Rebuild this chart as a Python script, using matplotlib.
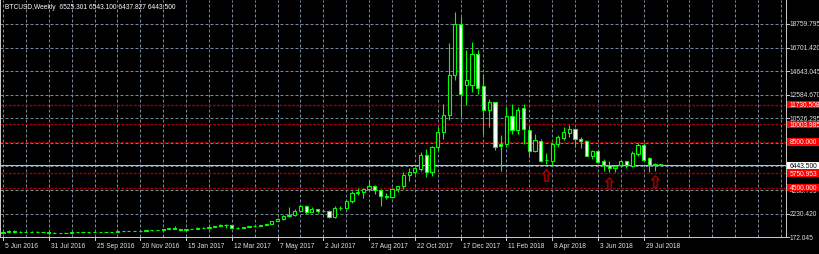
import matplotlib.pyplot as plt
from matplotlib.patches import Rectangle
from matplotlib.path import Path
import matplotlib.transforms as mtransforms

plt.rcParams['font.family'] = ['Liberation Sans', 'DejaVu Sans']

# BTCUSD weekly bars, week 0 = 5 Jun 2016
opens = [575, 605, 690, 660, 665, 650, 665, 655, 625, 590, 570, 580, 575, 605, 607, 608,
         600, 608, 618, 640, 655, 700, 705, 705, 740, 735, 765, 775, 785, 900, 995, 905,
         820, 920, 920, 1025, 1000, 1050, 1180, 1260, 1240, 1020, 965, 1080, 1180, 1200,
         1245, 1340, 1560, 1760, 2050, 2150, 2480, 2900, 2420, 2600, 2430, 2500, 1930, 2730,
         2700, 3340, 4050, 4130, 4390, 4620, 4300, 3750, 3700, 4390, 4620, 5610, 5870, 6100,
         7360, 5850, 8030, 9340, 10790, 14290, 18800, 13410, 13470, 16180, 13320, 11290,
         11930, 8320, 8320, 10740, 9480, 11460, 9540, 7680, 8560, 6880, 6860, 8260, 8820,
         9250, 9570, 8760, 8560, 7300, 7730, 6780, 6490, 6200, 6430, 6780, 6370, 7450, 8230,
         7070, 6570, 6525.301]
highs = [610, 780, 765, 700, 705, 680, 680, 665, 630, 600, 585, 590, 610, 630, 612, 610,
         610, 620, 645, 660, 720, 740, 720, 750, 750, 775, 780, 790, 930, 1000, 1150, 920,
         930, 925, 1030, 1060, 1060, 1200, 1290, 1330, 1250, 1080, 1100, 1200, 1220, 1250,
         1350, 1600, 1850, 2100, 2790, 2600, 2980, 2980, 2770, 2650, 2650, 2550, 2900, 2900,
         3400, 4200, 4480, 4450, 5110, 4750, 4350, 4050, 4450, 4680, 5870, 6230, 6300, 7600,
         7880, 8170, 9780, 11810, 17120, 19820, 19390, 16470, 17200, 16470, 14430, 12250,
         12000, 9050, 11530, 11810, 11530, 11810, 9920, 9190, 8700, 7510, 8470, 9130, 9780,
         9920, 9690, 8930, 8610, 7820, 7800, 7010, 6860, 6430, 6860, 6860, 7650, 8410, 8410,
         7200, 6640, 6543.1]
lows = [568, 600, 550, 620, 630, 640, 650, 640, 480, 570, 565, 570, 570, 600, 600, 590,
        595, 605, 615, 630, 650, 680, 700, 690, 730, 725, 755, 770, 785, 890, 870, 750,
        815, 880, 915, 960, 990, 1050, 1140, 975, 950, 890, 950, 1070, 1170, 1170,
        1240, 1330, 1550, 1700, 1900, 2050, 2460, 2200, 2350, 2300, 2380, 1850, 1850, 2550,
        2650, 3200, 3860, 3600, 4240, 3950, 2930, 3520, 3580, 4150, 4340, 5090, 5700, 5990,
        5410, 5550, 7740, 8760, 10360, 13850, 10650, 11660, 12840, 12690, 9190, 9780,
        7740, 5990, 8030, 9190, 9190, 8320, 7160, 7600, 6720, 6570, 6480, 8030, 8610,
        8910, 8030, 7940, 7250, 7010, 6630, 5990, 5850, 5850, 6290, 6170, 6290, 7300, 6860,
        5900, 5990, 6437.827]
closes = [605, 690, 660, 665, 650, 665, 655, 625, 590, 570, 580, 575, 605, 607, 608, 600,
          608, 618, 640, 655, 700, 705, 705, 740, 735, 765, 775, 785, 900, 995, 905, 820,
          920, 920, 1025, 1000, 1050, 1180, 1260, 1240, 1020, 965, 1080, 1180, 1200, 1245,
          1340, 1560, 1760, 2050, 2150, 2480, 2900, 2420, 2600, 2430, 2500, 1930, 2730, 2700,
          3340, 4050, 4130, 4390, 4620, 4300, 3750, 3700, 4390, 4620, 5610, 5870, 6220, 7360,
          5850, 8030, 9340, 10790, 14290, 18800, 12630, 13850, 16180, 13210, 11290, 11960,
          8080, 8120, 10740, 9480, 11230, 9600, 7680, 8610, 6860, 6920, 8320, 8900, 9340,
          9570, 8760, 8580, 7300, 7730, 6720, 6490, 6200, 6370, 6780, 6430, 7530, 8230, 6950,
          6430, 6500, 6443.5]

date_idx = [0, 8, 16, 24, 32, 40, 48, 56, 64, 72, 80, 88, 96, 104, 112]
date_labels = ["5 Jun 2016", "31 Jul 2016", "25 Sep 2016", "20 Nov 2016", "15 Jan 2017",
               "12 Mar 2017", "7 May 2017", "2 Jul 2017", "27 Aug 2017", "22 Oct 2017",
               "17 Dec 2017", "11 Feb 2018", "8 Apr 2018", "3 Jun 2018", "29 Jul 2018"]

price_ticks = [172.045, 2230.420, 4288.795, 6347.170, 8405.545, 10526.295,
               12584.670, 14643.045, 16701.420, 18759.795]
price_labels = ["172.045", "2230.420", "4288.795", "6347.170", "8405.545", "10526.295",
                "12584.670", "14643.045", "16701.420", "18759.795"]

levels = [11730.508, 10003.985, 8500.000, 5750.953, 4500.000]
level_labels = ["11730.508", "10003.985", "8500.000", "5750.953", "4500.000"]
current = 6443.500

arrow_idx = [95, 106, 114]
arrow_price = [5560, 4900, 5120]

header = "BTCUSD,Weekly  6525.301 6543.100 6437.827 6443.500"

green = '#00ff00'
fg = '#c8c8c8'
grid_c = '#778899'
red_line = '#a00000'

fig = plt.figure(figsize=(8.2, 2.55), dpi=100, facecolor='black')
ax = fig.add_axes([0, 16.7 / 255, 786 / 820, 237.3 / 255])
ax.set_facecolor('black')
ax.set_xlim(-0.524, 136.89)
ax.set_ylim(172.045, 172.045 + 237.3 * 87.14)

# grid
for v in price_ticks:
    ax.axhline(v, color=grid_c, lw=0.72, ls=(0, (3, 2)), zorder=1)
for i in range(0, 137, 4):
    ax.axvline(i, color=grid_c, lw=0.72, ls=(0, (3, 2)), zorder=1)

# horizontal levels
for v in levels:
    ax.axhline(v, color=red_line, lw=1.0, ls=(0, (2, 1)), zorder=1.5)
ax.axhline(current, color='#c0c0c0', lw=0.72, zorder=1.6)

# candles
w = 0.56
for i, (o, h, l, c) in enumerate(zip(opens, highs, lows, closes)):
    ax.vlines(i, l, h, color=green, lw=0.8, zorder=2)
    face = 'black' if c > o else 'white'
    ax.add_patch(Rectangle((i - w / 2, min(o, c)), w, abs(c - o), facecolor=face,
                           edgecolor=green, lw=0.8, zorder=3))

# arrows
arrow = Path([(0, 1), (0.65, 0.25), (0.3, 0.25), (0.3, -1), (-0.3, -1),
              (-0.3, 0.25), (-0.65, 0.25), (0, 1)], closed=True)
ax.scatter(arrow_idx, arrow_price, marker=arrow, s=8.2 ** 2, facecolor='black',
           edgecolor=red_line, linewidths=1.1, zorder=4)

for s in ['top']:
    ax.spines[s].set_visible(False)
for s in ['left', 'bottom', 'right']:
    ax.spines[s].set_color(fg)
    ax.spines[s].set_linewidth(0.72)
ax.set_xticks([])
ax.set_yticks([])

# price scale
ty = mtransforms.blended_transform_factory(ax.transAxes, ax.transData)
for v, t in zip(price_ticks, price_labels):
    ax.plot([1, 1 + 3 / 786], [v, v], color=fg, lw=0.72, transform=ty, clip_on=False)
    ax.text(1 + 4 / 786, v, t, color='#e0e0e0', fontsize=4.8, va='center', ha='left',
            transform=ty, clip_on=False, zorder=5)
box_h = 7.6 * 87.14
for v, t in zip(levels, level_labels):
    ax.add_patch(Rectangle((1 + 1 / 786, v - box_h / 2), 40 / 786, box_h, facecolor='#ff0000',
                           edgecolor='none', transform=ty, clip_on=False, zorder=6))
    ax.text(1 + 4 / 786, v, t, color='white', fontsize=4.8, va='center', ha='left',
            transform=ty, clip_on=False, zorder=7)
ax.add_patch(Rectangle((1 + 1 / 786, current - box_h / 2), 40 / 786, box_h, facecolor='white',
                       edgecolor='none', transform=ty, clip_on=False, zorder=6))
ax.text(1 + 4 / 786, current, "6443.500", color='black', fontsize=4.8, va='center', ha='left',
        transform=ty, clip_on=False, zorder=7)

# time scale
tx = mtransforms.blended_transform_factory(ax.transData, ax.transAxes)
for i, t in zip(date_idx, date_labels):
    ax.plot([i, i], [0, -3 / 237.3], color=fg, lw=0.72, transform=tx, clip_on=False)
    ax.text(i + 0.35, -7.8 / 237.3, t, color='#e0e0e0', fontsize=4.8, va='center', ha='left',
            transform=tx, clip_on=False)

fig.text(5 / 820, 1 - 7.5 / 255, header, color='white', fontsize=4.8, va='center', ha='left')

fig.savefig('out.png', dpi=100, facecolor='black')
